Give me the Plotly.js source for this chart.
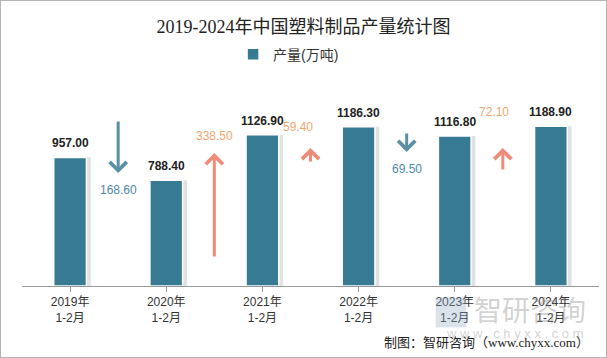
<!DOCTYPE html>
<html>
<head>
<meta charset="utf-8">
<script src="https://cdn.plot.ly/plotly-3.0.1.min.js"></script>
<style>
  html, body { margin: 0; padding: 0; background: #fff; }
  #wrap { position: relative; width: 607px; height: 358px; }
  #chart { width: 607px; height: 358px; }
  #frame { position: absolute; left: 0; top: 0; width: 607px; height: 358px; box-sizing: border-box; border: 1px solid #b4b4b4; pointer-events: none; }
</style>
</head>
<body>
<div id="wrap"><div id="chart"></div><div id="frame"></div></div>
<script>
// ---- data ----
const years = ["2019年", "2020年", "2021年", "2022年", "2023年", "2024年"];
const periods = ["1-2月", "1-2月", "1-2月", "1-2月", "1-2月", "1-2月"];
const output = [957.00, 788.40, 1126.90, 1186.30, 1116.80, 1188.90];
const seriesName = "产量(万吨)";

// ---- arrow placement (decoration, in y-axis units) ----
const arrowTail  = [1236, 208, 916, 1147, 856];
const arrowHead  = [841, 990, 1028, 998, 1028];
const labelY     = [715, 1117, 1184, 871, 1296];
const labelDx    = [0, 0, -0.125, 0, -0.09];

const barColor = "#367a94";
const upArrow = "#ee8b79", downArrow = "#5b8fa4";
const upText = "#f3a66e", downText = "#4c8aa8";

const cats = years.map((y, i) => y + "<br>" + periods[i]);
const xs = cats.map((_, i) => i);

const bw = 0.34;
const shadow = {
  type: "bar", x: xs, y: output, width: bw, offset: -bw / 2 + 0.045,
  marker: { color: "rgba(120,120,120,0.22)", line: { width: 0 } },
  showlegend: false, hoverinfo: "skip"
};
const bars = {
  type: "bar", x: xs, y: output, name: seriesName, width: bw, offset: -bw / 2,
  marker: { color: barColor, line: { color: "#ffffff", width: 1.5 } }
};

const annotations = [];
const FONT = "Liberation Sans, Arial, Noto Sans CJK SC, sans-serif";
output.forEach((v, i) => {
  annotations.push({
    x: i, y: v, xref: "x", yref: "y", yanchor: "bottom", yshift: 5,
    text: v.toFixed(2), showarrow: false,
    font: { family: FONT, size: 12, color: "#222", weight: "bold" }
  });
});
for (let i = 0; i < output.length - 1; i++) {
  const diff = output[i + 1] - output[i];
  const up = diff > 0;
  annotations.push({
    x: i + 0.5, y: arrowHead[i], ax: i + 0.5, ay: arrowTail[i],
    xref: "x", yref: "y", axref: "x", ayref: "y",
    text: "", showarrow: true, arrowhead: 4, arrowsize: 1.1, arrowwidth: 3,
    arrowcolor: up ? upArrow : downArrow, standoff: 0, startstandoff: 0
  });
  annotations.push({
    x: i + 0.5 + labelDx[i], y: labelY[i], xref: "x", yref: "y",
    text: Math.abs(diff).toFixed(2), showarrow: false,
    font: { family: FONT, size: 12, color: up ? upText : downText }
  });
}
// source + watermark
annotations.push({
  xref: "paper", yref: "paper", x: 0.986, y: -0.303, xanchor: "right", yanchor: "middle",
  text: "制图：智研咨询（www.chyxx.com）", showarrow: false,
  font: { family: "Liberation Serif, Noto Sans CJK SC, serif", size: 13, color: "#222" }
});
annotations.push({
  xref: "paper", yref: "paper", x: 0.88, y: -0.12, xanchor: "center", yanchor: "middle",
  text: "智研咨询", showarrow: false,
  font: { family: "Noto Sans CJK SC, sans-serif", size: 28, color: "rgba(140,140,140,0.40)" }
});
annotations.push({
  xref: "paper", yref: "paper", x: 0.855, y: -0.25, xanchor: "center", yanchor: "middle",
  text: "w w w . c h y x x . c o m", showarrow: false,
  font: { family: "Liberation Sans, sans-serif", size: 13, color: "rgba(140,140,140,0.40)" }
});

const layout = {
  width: 607, height: 358,
  margin: { l: 22, r: 8, t: 98, b: 72 },
  paper_bgcolor: "#ffffff", plot_bgcolor: "#ffffff",
  barmode: "overlay",
  title: {
    text: "2019-2024年中国塑料制品产量统计图",
    x: 0.5, xref: "container", xanchor: "center",
    y: 0.925, yref: "container", yanchor: "middle",
    font: { family: "Liberation Serif, Noto Sans CJK SC, serif", size: 18, color: "#222" }
  },
  showlegend: true,
  legend: {
    orientation: "h", x: 0.462, xanchor: "center", y: 1.23, yanchor: "middle",
    font: { family: FONT, size: 14, color: "#333" }, itemwidth: 30
  },
  xaxis: {
    tickmode: "array", tickvals: xs, ticktext: cats, range: [-0.5, 5.5],
    showline: true, linecolor: "#999", linewidth: 1,
    ticks: "outside", tickson: "boundaries", ticklen: 5, tickcolor: "#999",
    showgrid: false, zeroline: false,
    tickfont: { family: FONT, size: 12, color: "#333" }
  },
  yaxis: { range: [0, 1400], visible: false, showgrid: false, zeroline: false },
  annotations: annotations,
  shapes: [{
    type: "rect", xref: "paper", yref: "paper",
    x0: 0.717, x1: 0.77, y0: -0.06, y1: -0.22,
    fillcolor: "rgba(150,175,200,0.35)", line: { width: 0 }
  }]
};

Plotly.newPlot("chart", [shadow, bars], layout, { displayModeBar: false, staticPlot: true });
</script>
</body>
</html>
